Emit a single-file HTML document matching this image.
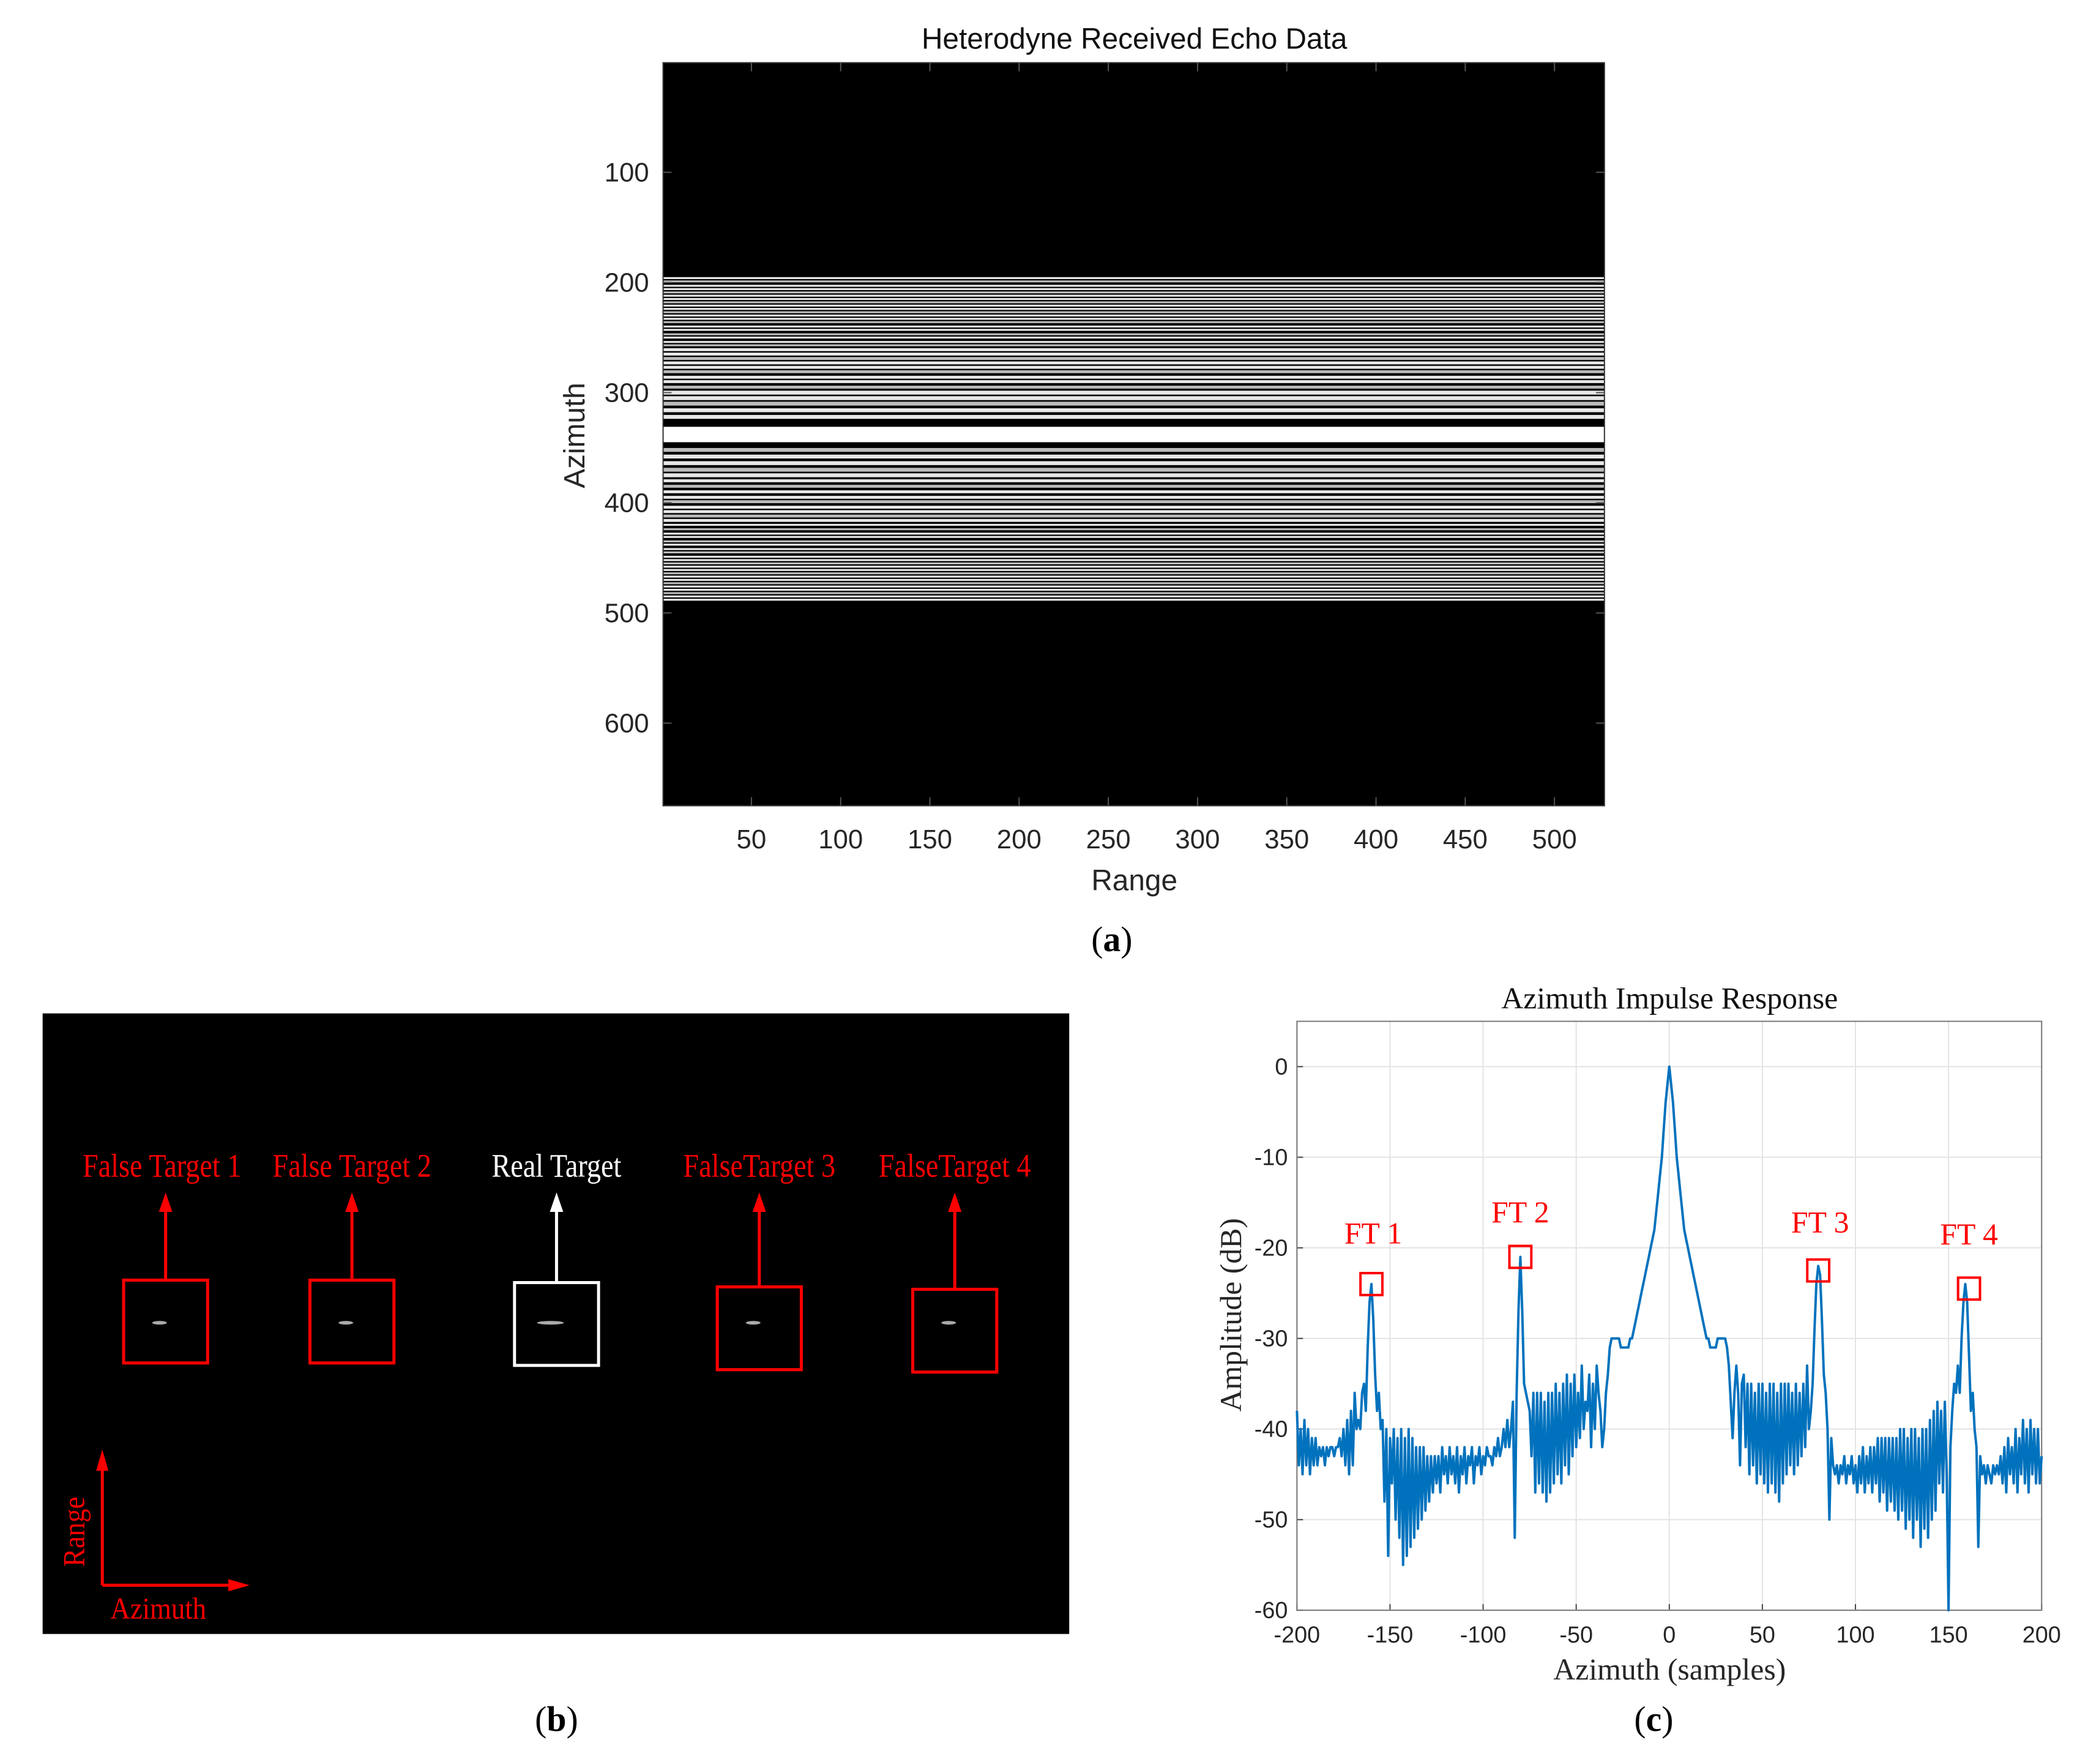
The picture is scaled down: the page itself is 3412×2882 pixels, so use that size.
<!DOCTYPE html>
<html><head><meta charset="utf-8"><style>
html,body{margin:0;padding:0;background:#fff;width:3412px;height:2882px;overflow:hidden}
svg{display:block}
</style></head><body>
<svg id="fig" width="3412" height="2882" viewBox="0 0 3412 2882" xmlns="http://www.w3.org/2000/svg">
<g transform="scale(0.995)">
<g id="pa"></g>
<g id="pb"></g>
<g id="pc"></g>
</g>
</svg>
<script>
// ---- Panel (a) data ----
const aXTicks = [50,100,150,200,250,300,350,400,450,500];
const aYTicks = [100,200,300,400,500,600];
const stripeRows = [196,199,203,206,209,212,215,218,221,224,227,230,233,236,240,243,247,250,254,257,261,265,269,273,277,281,286,290,295,300,305,310,316,322,
352,358,364,370,375,380,385,390,395,399,404,408,412,416,420,424,428,431,435,438,442,445,449,452,455,458,461,464,467,470,473,476,479,482,485,488];
const brightBand = [331,345];
// ---- Panel (c) data ----
const cXTicks = [-200,-150,-100,-50,0,50,100,150,200];
const cYTicks = [0,-10,-20,-30,-40,-50,-60];
const cXStart = -200;
const cValues = [
-38,-44,-40,-45,-39,-44,-40,-45,-41,-44,-41,-44,-42,-43,-42,-44,-42,-43,-42,-42,-43,-42,-42,-41,-43,-40,-44,-39,-45,-38,-44,-36,-40,-39,-40,
-36,-35,-38,-31,-26,-24,-28,-34,-38,-36,-40,
-39,-48,-40,-54,-41,-46,-40,-50,-41,-52,-40,-55,-41,-54,-40,-53,-41,-52,-42,-51,-42,-50,-42,-49,-43,-48,-43,-47,-43,-46,-43,-47,-42,-45,
-43,-46,-42,-45,-43,-46,-42,-47,-43,-45,-42,-46,-43,-44,-42,-46,-43,-44,-42,-45,-43,-44,-42,-43,-43,-44,-42,-43,-41,-43,-42,-40,-42,-39,-42,
-40,-37,-52,-36,-27,-21,-27,-35,-36,-37,-38,
-43,-36,-47,-36,-46,-36,-47,-37,-48,-36,-47,-36,-46,-35,-45,-36,-46,-35,-44,-34,-45,-35,-43,-34,-42,-36,-41,-33,-40,-37,-38,-34,-42,-35,-40,-33,-36,-38,-42,-40,-36,
-34,-31,-30,-30,-30,-30,-30,-31,-31,-31,-31,-31,-30,-30,-29,-28,-27,-26,-25,-24,-23,-22,-21,-20,-19,-18,-16,-14,-12,-10,-7,-4,-2,
0,
-2,-4,-7,-10,-12,-14,-16,-18,-19,-20,-21,-22,-23,-24,-25,-26,-27,-28,-29,-30,-30,-31,-31,-31,-31,-30,-30,-30,-30,-30,-31,-33,-37,
-41,-36,-33,-36,-44,-35,-34,-42,-35,-45,-35,-44,-36,-46,-35,-45,-35,-46,-36,-47,-35,-46,-35,-47,-36,-48,-35,-46,-35,-45,-35,-44,-36,-45,-35,-44,-36,-43,-35,-42,-33,-40,
-38,-35,-29,-24,-22,-23,-28,-34,-36,-40,-50,-41,-44,
-45,-44,-46,-44,-45,-43,-46,-44,-45,-43,-46,-44,-47,-43,-46,-42,-47,-43,-46,-42,-47,-42,-46,-41,-48,-41,-47,-41,-49,-41,-48,-41,-49,-41,-50,-40,-49,
-40,-51,-41,-50,-40,-52,-40,-50,-41,-53,-40,-51,-40,-52,-39,-50,-38,-49,-37,-46,-38,-47,-37,-45,
-60,-42,-38,-35,-36,-33,-36,-30,-26,-24,-26,-32,-38,-36,-40,-42,-53,
-43,-45,-44,-46,-44,-45,-46,-44,-45,-44,-45,-43,-46,-42,-47,-41,-45,-42,-46,-40,-47,-41,-45,-39,-46,-40,-47,-39,-45,-40,-46,-40,-46,-43];
const ftLabels = ["FT 1","FT 2","FT 3","FT 4"];
const ftX = [-160,-80,80,161];
const ftY = [-24,-21,-22.5,-24.5];
const ftLabelY = [-19.5,-17.2,-18.3,-19.6];
const ftLabelX = [-159,-80,81,161];
// ---- Panel (b) data ----
const bLabels = ["False Target 1","False Target 2","Real Target","FalseTarget 3","FalseTarget 4"];
const bCenters = [272,578,914,1247,1568];
const bBoxTop = [2102,2102,2106,2113,2117];

const NS="http://www.w3.org/2000/svg";
function mk(parent,tag,attrs,text){const e=document.createElementNS(NS,tag);for(const k in attrs)e.setAttribute(k,attrs[k]);if(text!==undefined)e.textContent=text;parent.appendChild(e);return e;}

// ===== Panel A =====
const pa=document.getElementById('pa');
const aL=1089,aR=2635,aT=103,aB=1323;
const ax=v=>aL+(v-0.5)/(528-0.5)*(aR-aL);
const ay=v=>aT+(v-0.5)/(675-0.5)*(aB-aT);
let r=mk(pa,'rect',{x:aL,y:aT,width:aR-aL,height:aB-aT,fill:'#000'});


stripeRows.forEach((v,i)=>{
  const d=Math.abs(v-338);
  const w=d<40?3.2:(d<80?2.4:1.6);
  const s=mk(pa,'rect',{x:aL,y:ay(v)-w,width:aR-aL,height:w*2,fill:i%3===1?'#bbb':'#e8e8e8'});
  
  
});
const band=mk(pa,'rect',{x:aL,y:ay(brightBand[0]),width:aR-aL,height:ay(brightBand[1])-ay(brightBand[0]),fill:'#fff'});


mk(pa,'rect',{x:aL,y:aT,width:aR-aL,height:aB-aT,fill:'none',stroke:'#333','stroke-width':2});
aXTicks.forEach(v=>{
  mk(pa,'line',{x1:ax(v),x2:ax(v),y1:aB,y2:aB-14,stroke:'#555','stroke-width':2});
  mk(pa,'line',{x1:ax(v),x2:ax(v),y1:aT,y2:aT+14,stroke:'#555','stroke-width':2});
  const t=mk(pa,'text',{x:ax(v),y:1393,'text-anchor':'middle','font-family':'Liberation Sans, sans-serif','font-size':44,fill:'#262626'},String(v));
  
  
});
aYTicks.forEach(v=>{
  mk(pa,'line',{x1:aL,x2:aL+14,y1:ay(v),y2:ay(v),stroke:'#555','stroke-width':2});
  mk(pa,'line',{x1:aR,x2:aR-14,y1:ay(v),y2:ay(v),stroke:'#555','stroke-width':2});
  const t=mk(pa,'text',{x:1066,y:ay(v)+15,'text-anchor':'end','font-family':'Liberation Sans, sans-serif','font-size':44,fill:'#262626'},String(v));
  
  
});
let t;
t=mk(pa,'text',{x:1863,y:80,'text-anchor':'middle','font-family':'Liberation Sans, sans-serif','font-size':48,fill:'#111'},'Heterodyne Received Echo Data');

t=mk(pa,'text',{x:1863,y:1462,'text-anchor':'middle','font-family':'Liberation Sans, sans-serif','font-size':48,fill:'#262626'},'Range');

t=mk(pa,'text',{x:960,y:715,'text-anchor':'middle','font-family':'Liberation Sans, sans-serif','font-size':48,fill:'#262626',transform:'rotate(-90 960 715)'},'Azimuth');

t=mk(pa,'text',{x:1826,y:1562,'text-anchor':'middle','font-family':'Liberation Serif, serif','font-size':58,fill:'#000'});
t.innerHTML='(<tspan font-weight="bold">a</tspan>)';


// ===== Panel B =====
const pb=document.getElementById('pb');
r=mk(pb,'rect',{x:70,y:1664,width:1686,height:1019,fill:'#000'});

const boxW=138,boxH=136;
bLabels.forEach((lab,i)=>{
  const c=bCenters[i], col=i===2?'#fff':'#f00';
  const b=mk(pb,'rect',{x:c-boxW/2,y:bBoxTop[i],width:boxW,height:boxH,fill:'none',stroke:col,'stroke-width':5});
  
  const g=mk(pb,'ellipse',{cx:c-10,cy:2172,rx:i===2?22:12,ry:3,fill:'#aaa'});
  
  mk(pb,'line',{x1:c,x2:c,y1:bBoxTop[i],y2:1985,stroke:col,'stroke-width':5});
  const a=mk(pb,'polygon',{points:`${c},1958 ${c-11},1990 ${c+11},1990`,fill:col});
  
  const lx=c-(i===0?6:0);
  const tx=mk(pb,'text',{x:0,y:0,'text-anchor':'middle','font-family':'Liberation Serif, serif','font-size':54,fill:col,transform:`translate(${lx},1932) scale(0.86,1)`},lab);
  
});
mk(pb,'line',{x1:168,x2:168,y1:2603,y2:2400,stroke:'#f00','stroke-width':5});
mk(pb,'polygon',{points:'168,2380 158,2415 178,2415',fill:'#f00'});
mk(pb,'line',{x1:168,x2:385,y1:2603,y2:2603,stroke:'#f00','stroke-width':5});
mk(pb,'polygon',{points:'410,2603 375,2593 375,2613',fill:'#f00'});
t=mk(pb,'text',{x:0,y:0,'text-anchor':'middle','font-family':'Liberation Serif, serif','font-size':50,fill:'#f00',transform:'translate(138,2515) rotate(-90) scale(0.9,1)'},'Range');

t=mk(pb,'text',{x:0,y:0,'text-anchor':'middle','font-family':'Liberation Serif, serif','font-size':50,fill:'#f00',transform:'translate(260,2658) scale(0.9,1)'},'Azimuth');

t=mk(pb,'text',{x:914,y:2842,'text-anchor':'middle','font-family':'Liberation Serif, serif','font-size':58,fill:'#000'});
t.innerHTML='(<tspan font-weight="bold">b</tspan>)';


// ===== Panel C =====
const pc=document.getElementById('pc');
const cL=2130,cR=3353,cT=1677,cB=2644;
const cx=v=>cL+(v+200)/400*(cR-cL);
const cy=v=>cT+(5-v)/65*(cB-cT);
mk(pc,'rect',{x:cL,y:cT,width:cR-cL,height:cB-cT,fill:'#fff'});
cXTicks.forEach(v=>{
  mk(pc,'line',{x1:cx(v),x2:cx(v),y1:cT,y2:cB,stroke:'#e3e3e3','stroke-width':2});
  mk(pc,'line',{x1:cx(v),x2:cx(v),y1:cB,y2:cB-10,stroke:'#444','stroke-width':2});
  const tt=mk(pc,'text',{x:cx(v),y:2697,'text-anchor':'middle','font-family':'Liberation Sans, sans-serif','font-size':38,fill:'#262626'},String(v));
  
});
cYTicks.forEach(v=>{
  mk(pc,'line',{x1:cL,x2:cR,y1:cy(v),y2:cy(v),stroke:'#e3e3e3','stroke-width':2});
  mk(pc,'line',{x1:cL,x2:cL+10,y1:cy(v),y2:cy(v),stroke:'#444','stroke-width':2});
  const tt=mk(pc,'text',{x:2115,y:cy(v)+13,'text-anchor':'end','font-family':'Liberation Sans, sans-serif','font-size':38,fill:'#262626'},String(v));
  
});
mk(pc,'rect',{x:cL,y:cT,width:cR-cL,height:cB-cT,fill:'none',stroke:'#777','stroke-width':2});
const pts=cValues.map((v,i)=>cx(cXStart+i).toFixed(1)+','+cy(v).toFixed(1)).join(' ');
const line=mk(pc,'polyline',{points:pts,fill:'none',stroke:'#0072BD','stroke-width':4,'stroke-linejoin':'round'});

ftLabels.forEach((lab,i)=>{
  const b=mk(pc,'rect',{x:cx(ftX[i])-18,y:cy(ftY[i])-18,width:36,height:36,fill:'none',stroke:'#f00','stroke-width':4});
  
  const tt=mk(pc,'text',{x:cx(ftLabelX[i]),y:cy(ftLabelY[i]),'text-anchor':'middle','font-family':'Liberation Serif, serif','font-size':50,fill:'#f00'},lab);
  
});
t=mk(pc,'text',{x:2742,y:1656,'text-anchor':'middle','font-family':'Liberation Serif, serif','font-size':50,fill:'#111'},'Azimuth Impulse Response');

t=mk(pc,'text',{x:2742,y:2758,'text-anchor':'middle','font-family':'Liberation Serif, serif','font-size':50,fill:'#262626'},'Azimuth (samples)');

t=mk(pc,'text',{x:2038,y:2159,'text-anchor':'middle','font-family':'Liberation Serif, serif','font-size':50,fill:'#262626',transform:'rotate(-90 2038 2159)'},'Amplitude (dB)');

t=mk(pc,'text',{x:2716,y:2842,'text-anchor':'middle','font-family':'Liberation Serif, serif','font-size':58,fill:'#000'});
t.innerHTML='(<tspan font-weight="bold">c</tspan>)';

</script>
</body></html>
